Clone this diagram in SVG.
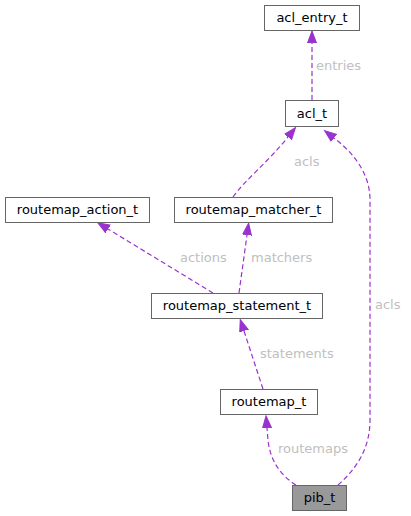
<svg xmlns="http://www.w3.org/2000/svg" width="411" height="516" viewBox="0 0 411 516">
<defs>
<style>
.node rect{fill:#ffffff;stroke:#666666;stroke-width:1}
.node text{font-family:"DejaVu Sans",sans-serif;font-size:13px;fill:#000000;text-anchor:middle}
.edge path{fill:none;stroke:#9a32cd;stroke-width:1.2;stroke-dasharray:5,3}
.lbl{font-family:"DejaVu Sans",sans-serif;font-size:13px;fill:#c0c0c0}
</style>
<marker id="ah" markerUnits="userSpaceOnUse" markerWidth="14" markerHeight="11" refX="0" refY="4.5" orient="auto" viewBox="0 0 14 9">
<path d="M0,0 L12,4.5 L0,9 z" fill="#9a32cd" stroke="#9a32cd" stroke-width="1"/>
</marker>
</defs>
<rect width="411" height="516" fill="#ffffff"/>
<g id="edges" class="edge">
<path d="M312,100 L312,43" marker-end="url(#ah)"/>
<path d="M233,197 C245,180 268,162 288,137" marker-end="url(#ah)"/>
<path d="M338,485 C355,470 370,450 370,420 L370,200 C370,172 352,152 334,138" marker-end="url(#ah)"/>
<path d="M213,293 L108,229" marker-end="url(#ah)"/>
<path d="M239,293 L247,235" marker-end="url(#ah)"/>
<path d="M263,389 L244,331" marker-end="url(#ah)"/>
<path d="M296,485 C280,475 270,460 268,440 L267,428" marker-end="url(#ah)"/>
<text class="lbl" x="316" y="70">entries</text>
<text class="lbl" x="294" y="166">acls</text>
<text class="lbl" x="375" y="309">acls</text>
<text class="lbl" x="180" y="262">actions</text>
<text class="lbl" x="251" y="262">matchers</text>
<text class="lbl" x="260" y="358">statements</text>
<text class="lbl" x="278" y="453">routemaps</text>
</g>
<g id="acl_entry_t" class="node"><rect x="264.5" y="5.5" width="95" height="25"/><text x="312" y="22">acl_entry_t</text></g>
<g id="acl_t" class="node"><rect x="285.5" y="100.5" width="53" height="26"/><text x="312" y="118">acl_t</text></g>
<g id="routemap_action_t" class="node"><rect x="5.5" y="197.5" width="144" height="25"/><text x="77.5" y="214">routemap_action_t</text></g>
<g id="routemap_matcher_t" class="node"><rect x="174.5" y="197.5" width="158" height="25"/><text x="253.5" y="214">routemap_matcher_t</text></g>
<g id="routemap_statement_t" class="node"><rect x="151.5" y="293.5" width="171" height="25"/><text x="237" y="310">routemap_statement_t</text></g>
<g id="routemap_t" class="node"><rect x="220.5" y="389.5" width="97" height="25"/><text x="269" y="406">routemap_t</text></g>
<g id="pib_t" class="node"><rect x="292.5" y="485.5" width="54" height="25" style="fill:#999999"/><text x="319.5" y="502">pib_t</text></g>
</svg>
